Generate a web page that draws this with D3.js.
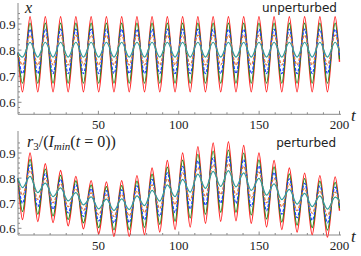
<!DOCTYPE html>
<html>
<head>
<meta charset="utf-8">
<script src="https://cdn.jsdelivr.net/npm/d3@7"></script>
<style>
  html, body { margin: 0; padding: 0; background: #fff; }
  svg { display: block; }
  .tick-label { font-family: 'Liberation Serif', 'DejaVu Serif', serif; font-size: 13px; fill: #222; }
  .axis-title { font-family: 'Liberation Serif', serif; font-style: italic; fill: #222; }
  .panel-note { font-family: 'DejaVu Sans', sans-serif; font-size: 12px; fill: #222; }
</style>
</head>
<body>
<svg id="chart" width="361" height="256"></svg>
<script>
// curve order / colours
const seriesNames = ['red', 'green', 'blue', 'orange', 'teal'];
const seriesColors = ['#ff2a2a', '#1a8a1a', '#1f3dff', '#e2783a', '#2f9c9c'];

// times of the troughs and crests
const troughTimes = [2.8, 12.3, 21.8, 31.2, 40.7, 50.2, 59.7, 69.2, 78.7, 88.2, 97.7,
  107.1, 116.6, 126.1, 135.6, 145.1, 154.6, 164.1, 173.6, 183, 192.5];
const crestTimes = [7.5, 17, 26.5, 36, 45.5, 55, 64.5, 74, 83.4, 92.9, 102.4,
  111.9, 121.4, 130.9, 140.4, 149.9, 159.3, 168.8, 178.3, 187.8, 197.3];

// top panel (unperturbed): constant crest / trough per curve
const topCrest = [0.928, 0.903, 0.880, 0.857, 0.830];
const topTrough = [0.640, 0.673, 0.710, 0.743, 0.773];
const topStart = [0.79, 0.79, 0.79, 0.79, 0.79];
const topEnd = [0.755, 0.765, 0.780, 0.790, 0.795];

// bottom panel (perturbed)
const botStart = [0.80, 0.80, 0.80, 0.80, 0.80];
const botEnd = [0.67, 0.68, 0.69, 0.70, 0.71];
const botTrough = [
  [.635, .627, .623, .610, .598, .578, .568, .568, .575, .585, .595, .605, .620, .628, .630, .620, .605, .595, .585, .575, .565],
  [.667, .656, .649, .635, .622, .603, .594, .595, .604, .616, .628, .641, .656, .664, .664, .653, .637, .625, .613, .603, .593],
  [.700, .686, .676, .661, .647, .629, .621, .623, .634, .648, .662, .677, .692, .700, .699, .687, .670, .656, .642, .632, .622],
  [.732, .715, .702, .686, .671, .654, .647, .650, .663, .679, .695, .712, .727, .735, .733, .720, .702, .686, .670, .660, .650],
  [.762, .742, .726, .709, .693, .677, .671, .675, .690, .708, .726, .744, .759, .767, .765, .751, .732, .714, .696, .686, .676]
];
const botCrest = [
  [.900, .857, .830, .807, .790, .785, .790, .810, .840, .870, .900, .925, .940, .945, .930, .900, .870, .840, .820, .810, .805],
  [.875, .836, .811, .789, .772, .766, .770, .788, .816, .844, .872, .895, .908, .912, .900, .873, .845, .817, .798, .788, .783],
  [.853, .818, .795, .774, .757, .750, .753, .769, .795, .821, .847, .869, .881, .885, .874, .849, .823, .797, .779, .769, .764],
  [.830, .799, .778, .758, .741, .733, .735, .749, .773, .797, .821, .842, .853, .857, .847, .824, .800, .776, .759, .749, .744],
  [.807, .780, .761, .742, .725, .716, .717, .729, .751, .773, .795, .816, .827, .830, .821, .799, .777, .755, .739, .729, .724]
];

// axis ticks
const tMajor = [50, 100, 150, 200];
const tMinor = [10, 20, 30, 40, 60, 70, 80, 90, 110, 120, 130, 140, 160, 170, 180, 190];
const yMajor = [0.6, 0.7, 0.8, 0.9];
const yMinorTop = [0.56, 0.58, 0.62, 0.64, 0.66, 0.68, 0.72, 0.74, 0.76, 0.78, 0.82, 0.84, 0.86, 0.88, 0.92, 0.94];
const yMinorBot = [0.58, 0.62, 0.64, 0.66, 0.68, 0.72, 0.74, 0.76, 0.78, 0.82, 0.84, 0.86, 0.88, 0.92, 0.94];

const $svg = d3.select('#chart');
const x = d3.scaleLinear().domain([0, 200]).range([18, 339.5]);

const panels = [
  { id: 'top', y: d3.scaleLinear().domain([0.6, 0.9]).range([102.3, 24]), axisY: 114.3, topY: 3,
    crest: seriesNames.map((d, i) => crestTimes.map(() => topCrest[i])),
    trough: seriesNames.map((d, i) => troughTimes.map(() => topTrough[i])),
    start: topStart, end: topEnd, minor: yMinorTop },
  { id: 'bot', y: d3.scaleLinear().domain([0.6, 0.9]).range([228.3, 153]), axisY: 235, topY: 131,
    crest: botCrest, trough: botTrough, start: botStart, end: botEnd, minor: yMinorBot }
];

function buildSeries(p, i) {
  const pts = [{ t: 0, v: p.start[i] }];
  troughTimes.forEach((t, k) => pts.push({ t, v: p.trough[i][k] }));
  crestTimes.forEach((t, k) => pts.push({ t, v: p.crest[i][k] }));
  pts.push({ t: 200, v: p.end[i] });
  return pts.sort((a, b) => a.t - b.t);
}

function drawAxes(p) {
  const g = $svg.append('g').attr('class', `axes axes--${p.id}`);
  const x0 = x(0);
  g.append('line').attr('x1', x0).attr('x2', 341).attr('y1', p.axisY).attr('y2', p.axisY)
    .attr('stroke', '#8a8a8a').attr('stroke-width', 1);
  g.append('line').attr('x1', x0).attr('x2', x0).attr('y1', p.axisY).attr('y2', p.topY)
    .attr('stroke', '#8a8a8a').attr('stroke-width', 1);

  g.selectAll('.tmaj').data(tMajor).enter().append('line')
    .attr('x1', d => x(d)).attr('x2', d => x(d))
    .attr('y1', p.axisY).attr('y2', p.axisY - 3.5).attr('stroke', '#8a8a8a');
  g.selectAll('.tmin').data(tMinor).enter().append('line')
    .attr('x1', d => x(d)).attr('x2', d => x(d))
    .attr('y1', p.axisY).attr('y2', p.axisY - 2).attr('stroke', '#8a8a8a');
  g.selectAll('.ymaj').data(yMajor).enter().append('line')
    .attr('x1', x0).attr('x2', x0 + 3.5)
    .attr('y1', d => p.y(d)).attr('y2', d => p.y(d)).attr('stroke', '#8a8a8a');
  g.selectAll('.ymin').data(p.minor).enter().append('line')
    .attr('x1', x0).attr('x2', x0 + 2)
    .attr('y1', d => p.y(d)).attr('y2', d => p.y(d)).attr('stroke', '#8a8a8a');

  g.selectAll('.tlab').data(tMajor).enter().append('text')
    .attr('class', 'tick-label').attr('text-anchor', 'middle')
    .attr('x', d => x(d)).attr('y', p.axisY + 15).text(d => d);
  g.selectAll('.ylab').data(yMajor).enter().append('text')
    .attr('class', 'tick-label').attr('text-anchor', 'end')
    .attr('x', 15.5).attr('y', d => p.y(d) + 4.5).text(d => d.toFixed(1));

  g.append('text').attr('class', 'axis-title').attr('x', 351).attr('y', p.axisY + 7)
    .style('font-size', '17px').text('t');
}

function drawLines(p) {
  const line = d3.line().x(d => x(d.t)).y(d => p.y(d.v)).curve(d3.curveMonotoneX);
  const g = $svg.append('g').attr('class', `lines lines--${p.id}`);
  seriesNames.forEach((name, i) => {
    g.append('path')
      .attr('d', line(buildSeries(p, i)))
      .attr('fill', 'none')
      .attr('stroke', seriesColors[i])
      .attr('stroke-width', name === 'red' ? 1.4 : 1.2)
      .attr('stroke-dasharray', (name === 'blue' || name === 'orange') ? '3,1.5' : null);
  });
}

panels.forEach(p => { drawAxes(p); drawLines(p); });

// labels
$svg.append('text').attr('class', 'axis-title').attr('x', 25).attr('y', 13)
  .style('font-size', '16px').text('x');
$svg.append('text').attr('class', 'panel-note').attr('text-anchor', 'end')
  .attr('x', 337).attr('y', 12).text('unperturbed');
$svg.append('text').attr('class', 'panel-note').attr('text-anchor', 'end')
  .attr('x', 336).attr('y', 147).text('perturbed');

const $r = $svg.append('text').attr('class', 'axis-title').attr('x', 27).attr('y', 147)
  .style('font-size', '16px');
$r.append('tspan').text('r');
$r.append('tspan').attr('dy', 3).style('font-size', '11px').style('font-style', 'normal').text('3');
$r.append('tspan').attr('dy', -3).style('font-style', 'normal').text('/(');
$r.append('tspan').text('I');
$r.append('tspan').attr('dy', 3).style('font-size', '11px').text('min');
$r.append('tspan').attr('dy', -3).style('font-style', 'normal').text('(');
$r.append('tspan').text('t');
$r.append('tspan').style('font-style', 'normal').text(' = 0))');
</script>
</body>
</html>
